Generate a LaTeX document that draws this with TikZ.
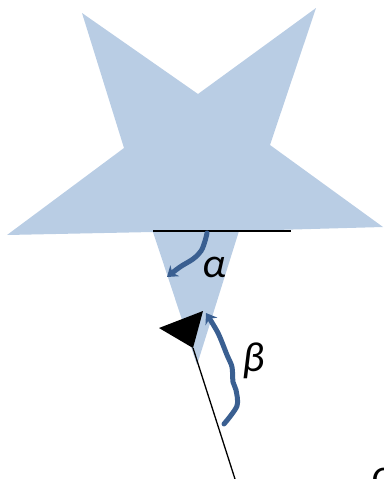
\documentclass[tikz,border=0pt]{standalone}
\usepackage{fontspec}
\setmainfont{Carlito}
\usetikzlibrary{arrows.meta}
\definecolor{starblue}{RGB}{185,205,228}
\definecolor{arcblue}{RGB}{58,95,145}

\begin{document}
\begin{tikzpicture}[
    x=1pt, y=-1pt,
    starfill/.style={fill=starblue, draw=none},
    refline/.style={draw=black, line width=1.3pt},
    anglearrow/.style={-{Stealth[length=10pt, width=14pt]}, line width=5pt, draw=arcblue, line cap=round},
    lbl/.style={font=\fontsize{42}{46}\selectfont\itshape, inner sep=0pt},
]
    \useasboundingbox (0,0) rectangle (383,479);
    % star body
    \fill[starfill] (82,13) -- (198,94) -- (316,8) -- (270,145) -- (383,227) -- (239,231)
        -- (197,365) -- (153,232) -- (7,235) -- (124,148) -- cycle;
    % reference line and pointer
    \coordinate (baseL) at (153,231);
    \coordinate (baseR) at (291,231);
    \draw[refline] (baseL) -- (baseR);
    \coordinate (tip) at (193,348);
    \coordinate (foot) at (235,479);
    \draw[refline] (foot) -- (tip);
    \fill (tip) -- (159,328) -- (203,311) -- cycle;
    % angle arrows
    \draw[anglearrow] plot[smooth, tension=0.6] coordinates {(207,233) (205,241) (201,251) (193,259) (180,267) (167,277)};
    \draw[anglearrow] plot[smooth, tension=0.5] coordinates {(224,424) (237,406) (236,390) (233,382) (232,367) (227,355) (218,333) (206,313)};
    \node[lbl] (alpha) at (214,267) {α};
    \node[lbl] (beta) at (254,361) {β};
    \node[lbl] (alphaB) at (383,478) {α};
\end{tikzpicture}
\end{document}
